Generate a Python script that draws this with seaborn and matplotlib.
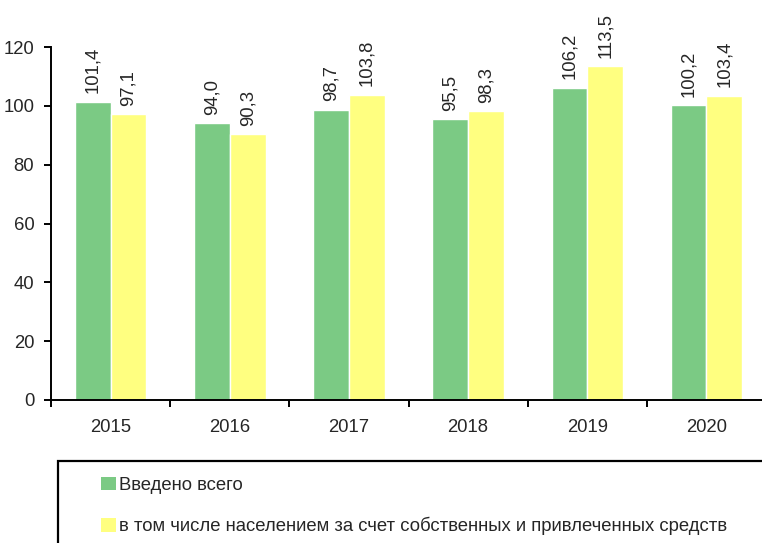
import matplotlib
matplotlib.use("Agg")
import matplotlib.pyplot as plt
import seaborn as sns
import pandas as pd
from matplotlib.patches import Rectangle, Patch

years = ["2015", "2016", "2017", "2018", "2019", "2020"]
total = [101.4, 94.0, 98.7, 95.5, 106.2, 100.2]
population = [97.1, 90.3, 103.8, 98.3, 113.5, 103.4]
series_names = ["Введено всего",
                "в том числе населением за счет собственных и привлеченных средств"]
colors = ["#7BCA84", "#FFFF80"]
y_ticks = [0, 20, 40, 60, 80, 100, 120]

df = pd.DataFrame({
    "year": years * 2,
    "value": total + population,
    "series": [series_names[0]] * len(years) + [series_names[1]] * len(years),
})

sns.set_style("white")
plt.rcParams["font.family"] = ["Liberation Sans", "DejaVu Sans"]
FS = 13.3

fig = plt.figure(figsize=(7.62, 5.43), dpi=100)
ax = fig.add_axes([51 / 762, 1 - 400 / 543, 715 / 762, 353 / 543])

sns.barplot(data=df, x="year", y="value", hue="series", palette=colors,
            width=0.6, gap=0, saturation=1, ax=ax, legend=False, errorbar=None)

for container in ax.containers:
    labels = [f"{v:.1f}".replace(".", ",") for v in container.datavalues]
    ax.bar_label(container, labels=labels, rotation=90, padding=6, fontsize=FS)

ax.set_ylim(0, 120)
ax.set_xlim(-0.5, len(years) - 0.5)
ax.set_yticks(y_ticks)
ax.set_xlabel("")
ax.set_ylabel("")

for side in ["top", "right"]:
    ax.spines[side].set_visible(False)
for side in ["left", "bottom"]:
    ax.spines[side].set_linewidth(1.4)
    ax.spines[side].set_color("black")

ax.tick_params(axis="y", which="major", direction="out", length=5, width=1.4,
               pad=7, labelsize=FS, left=True, color="black")
ax.tick_params(axis="x", which="major", length=0, pad=14, labelsize=FS)
ax.set_xticks([i - 0.5 for i in range(len(years) + 1)], minor=True)
ax.tick_params(axis="x", which="minor", direction="out", length=5, width=1.4,
               bottom=True, color="black")

# legend frame running off the right and bottom edges
fig.patches.append(Rectangle((58 / 762, -0.1), 1.0, 0.1 + (543 - 461) / 543,
                             transform=fig.transFigure, fill=False,
                             edgecolor="black", linewidth=1.6))
handles = [Patch(facecolor=c, edgecolor="none") for c in colors]
fig.legend(handles, series_names, loc="upper left",
           bbox_to_anchor=(84 / 762, 1 - 460 / 543), frameon=False,
           fontsize=FS, handlelength=0.85, handleheight=0.75,
           handletextpad=0.15, labelspacing=1.25)

fig.savefig("out.png", dpi=100)
